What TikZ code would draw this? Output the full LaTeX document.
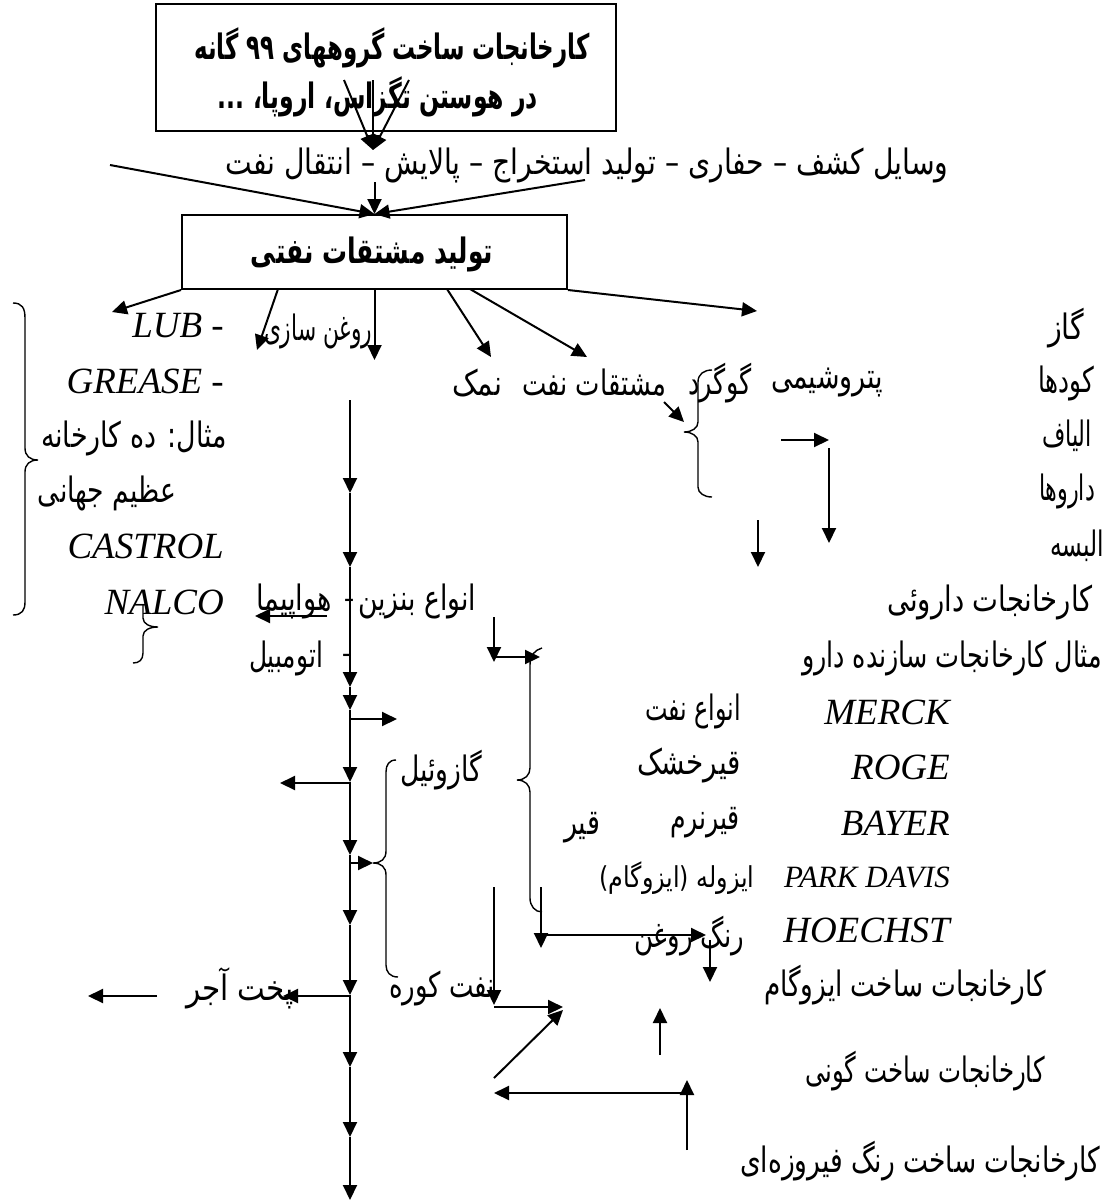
\documentclass[tikz,border=0pt]{standalone}
\usepackage{fontspec}
\usepackage{graphicx}
\usetikzlibrary{arrows.meta}
\newfontfamily\fa[Script=Arabic]{DejaVu Sans}
\newfontfamily\lat{Liberation Serif}
\TeXXeTstate=1
\newcommand\fw[2]{\resizebox{#1pt}{1.25\height}{#2}}
\tikzset{
  fat/.style={inner sep=0pt, font=\fa\fontsize{28}{32}\selectfont},
  fas/.style={inner sep=0pt, font=\fa\fontsize{23}{27}\selectfont},
  fab/.style={inner sep=0pt, font=\fa\bfseries\fontsize{28}{32}\selectfont},
  lat/.style={inner sep=0pt, font=\lat\itshape\fontsize{37}{40}\selectfont},
  lats/.style={inner sep=0pt, font=\lat\itshape\fontsize{31}{34}\selectfont},
  hy/.style={inner sep=0pt, font=\lat\fontsize{30}{32}\selectfont},
  arr/.style={line width=2pt, -{Triangle[length=15pt,width=14pt]}},
  brace/.style={line width=1.4pt},
  boxst/.style={draw, line width=2pt},
}
\begin{document}
\begin{tikzpicture}[x=1pt,y=-1pt]
\useasboundingbox (0,0) rectangle (1108,1203);
% ---------- top box ----------
\node[boxst, minimum width=460pt, minimum height=127pt] (box1) at (386,67) {};
\node[fab] (t1a) at (392,48) {\fw{395}{\beginR کارخانجات ساخت گروههای ۹۹ گانه\endR}};
\node[fab] (t1b) at (378,97) {\fw{320}{\beginR در هوستن تگزاس، اروپا، ...\endR}};
\coordinate (s1a) at (344,80);
\coordinate (s1b) at (373,80);
\coordinate (s1c) at (409,80);
\coordinate (d1) at (373,150);
\draw[arr] (s1a) -- (d1);
\draw[arr] (s1b) -- (d1);
\draw[arr] (s1c) -- (d1);
% ---------- line of tools ----------
\node[fat] (t2) at (587,165) {\fw{723}{\beginR وسایل کشف – حفاری – تولید استخراج – پالایش – انتقال نفت\endR}};
% ---------- box 2 ----------
\node[boxst, minimum width=385pt, minimum height=74pt] (box2) at (374.5,252) {};
\node[fab] (t3) at (372,254) {\fw{242}{\beginR تولید مشتقات نفتی\endR}};
\coordinate (s2a) at (110,165);
\coordinate (s2b) at (374.5,182);
\coordinate (s2c) at (585,180);
\draw[arr] (s2a) -- (box2.north);
\draw[arr] (s2b) -- (box2.north);
\draw[arr] (s2c) -- (box2.north);
% ---------- arrows out of box 2 ----------
\coordinate (b2) at (278,289);
\coordinate (b4) at (447,289);
\coordinate (b5) at (470,289);
\coordinate (e1) at (112,312);
\coordinate (e2) at (257,350);
\coordinate (e3) at (374.5,360);
\coordinate (e4) at (491,357);
\coordinate (e5) at (587,357);
\coordinate (e6) at (757,311);
\draw[arr] (box2.south west) -- (e1);
\draw[arr] (b2) -- (e2);
\draw[arr] (box2.south) -- (e3);
\draw[arr] (b4) -- (e4);
\draw[arr] (b5) -- (e5);
\draw[arr] (box2.south east) -- (e6);
% ---------- left column ----------
\node[lat, anchor=east] (lub) at (224,326) {LUB -};
\node[fat] (rs) at (318,331) {\fw{108}{\beginR روغن سازی\endR}};
\node[lat, anchor=east] (grease) at (224,381) {GREASE -};
\node[fat] (mth) at (134,438) {\fw{186}{\beginR مثال: ده کارخانه\endR}};
\node[fat] (azim) at (107,493) {\fw{138}{\beginR عظیم جهانی\endR}};
\node[lat, anchor=east] (castrol) at (224,546) {CASTROL};
\node[lat, anchor=east] (nalco) at (224,602) {NALCO};
\draw[brace] (13,303) .. controls (22,303) and (25,308) .. (25,318) -- (25,448)
  .. controls (25,456) and (30,460) .. (38,460) .. controls (30,460) and (25,464) .. (25,472)
  -- (25,602) .. controls (25,610) and (22,615) .. (13,615);
\draw[brace] (143,604) -- (143,618) .. controls (143,624) and (150,627) .. (158,627)
  .. controls (150,627) and (143,630) .. (143,636) -- (143,653)
  .. controls (143,660) and (139,663) .. (133,663);
% ---------- main column ----------
\coordinate (m0) at (350,400);
\coordinate (m1) at (350,493);
\coordinate (m2) at (350,567);
\coordinate (m3) at (350,687);
\coordinate (m4) at (350,710);
\coordinate (m5) at (350,782);
\coordinate (m6) at (350,855);
\coordinate (m7) at (350,925);
\coordinate (m8) at (350,995);
\coordinate (m9) at (350,1067);
\coordinate (m10) at (350,1137);
\coordinate (m11) at (350,1200);
\draw[arr] (m0) -- (m1);
\draw[arr] (m1) -- (m2);
\draw[arr] (m2) -- (m3);
\draw[arr] (m3) -- (m4);
\draw[arr] (m4) -- (m5);
\draw[arr] (m5) -- (m6);
\draw[arr] (m6) -- (m7);
\draw[arr] (m7) -- (m8);
\draw[arr] (m8) -- (m9);
\draw[arr] (m9) -- (m10);
\draw[arr] (m10) -- (m11);
% texts along column
\node[fat] (havap) at (294,601) {\fw{76}{\beginR هواپیما\endR}};
\node[fat] (benzin) at (417,601) {\fw{118}{\beginR انواع بنزین\endR}};
\node[hy] (hy1) at (349,603) {-};
\node[fat] (otom) at (286,658) {\fw{74}{\beginR اتومبیل\endR}};
\node[hy] (hy2) at (347,658) {-};
\node[fat] (gazoil) at (441,770) {\fw{82}{\beginR گازوئیل\endR}};
\node[fat] (koore) at (442,988) {\fw{106}{\beginR نفت کوره\endR}};
\node[fat] (ajor) at (240,988) {\fw{108}{\beginR پخت آجر\endR}};
% side arrows
\coordinate (p1) at (327,616);
\coordinate (q1) at (255,616);
\coordinate (p2) at (350,719);
\coordinate (q2) at (397,719);
\coordinate (p3) at (350,783);
\coordinate (q3) at (280,783);
\coordinate (p4) at (350,863);
\coordinate (q4) at (373,863);
\coordinate (p5) at (350,996);
\coordinate (q5) at (283,996);
\coordinate (p6) at (157,996);
\coordinate (q6) at (88,996);
\draw[arr] (p1) -- (q1);
\draw[arr] (p2) -- (q2);
\draw[arr] (p3) -- (q3);
\draw[arr] (p4) -- (q4);
\draw[arr] (p5) -- (q5);
\draw[arr] (p6) -- (q6);
% brace around gazoil / naft koore
\draw[brace] (396,760) .. controls (389,760) and (386,765) .. (386,772) -- (386,851)
  .. controls (386,859) and (381,863) .. (373,863) .. controls (381,863) and (386,867) .. (386,875)
  -- (386,965) .. controls (386,972) and (390,977) .. (398,977);
% ---------- right column ----------
\node[fat] (gaz) at (1066,328) {\fw{36}{\beginR گاز\endR}};
\node[fat] (namak) at (477,383) {\fw{50}{\beginR نمک\endR}};
\node[fat] (moshtaghat) at (594,383) {\fw{144}{\beginR مشتقات نفت\endR}};
\node[fat] (gogerd) at (720,383) {\fw{63}{\beginR گوگرد\endR}};
\node[fat] (petro) at (827,383) {\fw{112}{\beginR پتروشیمی\endR}};
\node[fat] (koodha) at (1066,383) {\fw{56}{\beginR کودها\endR}};
\node[fat] (alyaf) at (1067,436) {\fw{50}{\beginR الیاف\endR}};
\node[fat] (darooha) at (1067,491) {\fw{56}{\beginR داروها\endR}};
\node[fat] (albase) at (1077,546) {\fw{54}{\beginR البسه\endR}};
\node[fat] (kdaroo) at (990,602) {\fw{205}{\beginR کارخانجات داروئی\endR}};
\node[fat] (mesal2) at (952,658) {\fw{300}{\beginR مثال کارخانجات سازنده دارو\endR}};
\draw[brace] (712,370) .. controls (704,370) and (698,374) .. (698,382) -- (698,422)
  .. controls (698,428) and (692,432) .. (684,432) .. controls (692,432) and (698,436) .. (698,442)
  -- (698,487) .. controls (698,493) and (704,497) .. (712,497);
\coordinate (r1a) at (664,402);
\coordinate (r1b) at (684,422);
\coordinate (r2a) at (781,440);
\coordinate (r2b) at (829,440);
\coordinate (r3a) at (829,448);
\coordinate (r3b) at (829,543);
\coordinate (r4a) at (758,520);
\coordinate (r4b) at (758,567);
\draw[arr] (r1a) -- (r1b);
\draw[arr] (r2a) -- (r2b);
\draw[arr] (r3a) -- (r3b);
\draw[arr] (r4a) -- (r4b);
% companies
\node[lat, anchor=east] (merck) at (950,712) {MERCK};
\node[lat, anchor=east] (roge) at (950,767) {ROGE};
\node[lat, anchor=east] (bayer) at (950,823) {BAYER};
\node[lats, anchor=east] (park) at (950,877) {PARK DAVIS};
\node[lat, anchor=east] (hoechst) at (950,930) {HOECHST};
\node[fat] (anvanaft) at (693,711) {\fw{96}{\beginR انواع نفت\endR}};
\node[fat] (ghkh) at (689,765) {\fw{104}{\beginR قیرخشک\endR}};
\node[fat] (ghnr) at (705,823) {\fw{70}{\beginR قیرنرم\endR}};
\node[fat] (ghir) at (582,828) {\fw{36}{\beginR قیر\endR}};
\node[fas] (izole) at (677,878) {\fw{155}{\beginR ایزوله (ایزوگام)\endR}};
\node[fat] (rang) at (689,936) {\fw{110}{\beginR رنگ روغن\endR}};
\node[fat] (kizo) at (905,985) {\fw{282}{\beginR کارخانجات ساخت ایزوگام\endR}};
\node[fat] (kgoni) at (925,1071) {\fw{240}{\beginR کارخانجات ساخت گونی\endR}};
\node[fat] (kfir) at (920,1161) {\fw{360}{\beginR کارخانجات ساخت رنگ فیروزه‌ای\endR}};
% big brace of qir
\draw[brace] (542,648) .. controls (535,650) and (530,655) .. (530,665) -- (530,768)
  .. controls (530,775) and (525,780) .. (517,780) .. controls (525,780) and (530,785) .. (530,792)
  -- (530,898) .. controls (530,906) and (535,912) .. (542,912);
\coordinate (o1a) at (494,617);
\coordinate (o1b) at (494,662);
\coordinate (o1c) at (494,657);
\coordinate (o1d) at (540,657);
\draw[arr] (o1a) -- (o1b);
\draw[arr] (o1c) -- (o1d);
% lower network
\coordinate (o6a) at (494,887);
\coordinate (o6b) at (494,1005);
\coordinate (o6c) at (494,1007);
\coordinate (o6d) at (563,1007);
\coordinate (o7a) at (494,1078);
\coordinate (o7b) at (563,1010);
\coordinate (o8a) at (541,887);
\coordinate (o8b) at (541,948);
\coordinate (o8c) at (541,935);
\coordinate (o8d) at (706,935);
\coordinate (o9a) at (710,940);
\coordinate (o9b) at (710,982);
\coordinate (o10a) at (660,1055);
\coordinate (o10b) at (660,1008);
\coordinate (o11a) at (687,1150);
\coordinate (o11b) at (687,1080);
\coordinate (o11c) at (687,1093);
\coordinate (o11d) at (494,1093);
\draw[arr] (o6a) -- (o6b);
\draw[arr] (o6c) -- (o6d);
\draw[arr] (o7a) -- (o7b);
\draw[arr] (o8a) -- (o8b);
\draw[arr] (o8c) -- (o8d);
\draw[arr] (o9a) -- (o9b);
\draw[arr] (o10a) -- (o10b);
\draw[arr] (o11a) -- (o11b);
\draw[arr] (o11c) -- (o11d);
\end{tikzpicture}
\end{document}
